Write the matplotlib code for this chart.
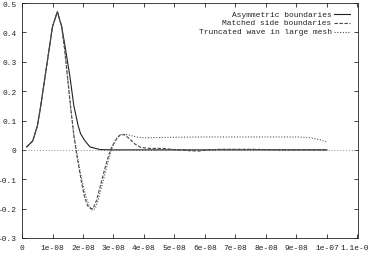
import matplotlib
matplotlib.use("Agg")
import matplotlib.pyplot as plt
from matplotlib.lines import Line2D

# ---- data (time in ns) ----
rise_t = [1.5, 3.5, 5.0, 6.0, 7.0, 8.0, 9.0, 10.0, 11.6]
rise_v = [0.01, 0.03, 0.08, 0.14, 0.21, 0.28, 0.35, 0.42, 0.47]

asym_t = rise_t + [13.0, 14.0, 15.7, 17.0, 18.4, 19.2, 20.7, 22.3, 25.6, 30.0, 40.0, 60.0, 80.0, 100.0]
asym_v = rise_v + [0.42, 0.36, 0.25, 0.15, 0.083, 0.055, 0.03, 0.01, 0.001, 0.0, 0.0, 0.0, 0.0, 0.0]

match_t = rise_t + [13.0, 14.0, 15.0, 16.0, 17.0, 17.7, 18.5, 19.5, 20.5, 21.5, 22.5, 23.3,
                    24.5, 25.5, 26.5, 27.5, 29.0, 30.5, 32.0, 33.5, 35.0, 37.0, 39.0, 42.0,
                    46.0, 50.0, 55.0, 58.0, 61.0, 65.0, 75.0, 80.0, 85.0, 100.0]
match_v = rise_v + [0.42, 0.34, 0.24, 0.14, 0.05, 0.0, -0.05, -0.11, -0.16, -0.19, -0.20, -0.20,
                    -0.17, -0.13, -0.09, -0.05, 0.0, 0.03, 0.05, 0.052, 0.04, 0.02, 0.008, 0.005,
                    0.005, 0.001, -0.003, -0.004, 0.0, 0.002, 0.002, 0.001, 0.0, 0.0]

trunc_t = rise_t + [13.0, 14.0, 15.0, 16.0, 17.0, 18.0, 19.0, 20.0, 21.0, 22.0, 23.0, 24.0,
                    25.0, 26.0, 27.0, 28.0, 29.0, 30.0, 31.0, 32.5, 34.0, 36.0, 38.0, 40.0,
                    45.0, 50.0, 60.0, 70.0, 80.0, 90.0, 94.0, 97.0, 100.0]
trunc_v = rise_v + [0.42, 0.34, 0.24, 0.14, 0.05, -0.01, -0.07, -0.12, -0.16, -0.19, -0.205, -0.20,
                    -0.17, -0.13, -0.09, -0.05, -0.01, 0.02, 0.04, 0.052, 0.053, 0.048, 0.043, 0.041,
                    0.042, 0.043, 0.044, 0.044, 0.044, 0.044, 0.042, 0.036, 0.027]

labels = ["Asymmetric boundaries", "Matched side boundaries", "Truncated wave in large mesh"]
xticks = [0, 1e-8, 2e-8, 3e-8, 4e-8, 5e-8, 6e-8, 7e-8, 8e-8, 9e-8, 1e-7, 1.1e-7]
xticklabels = ["0", "1e-08", "2e-08", "3e-08", "4e-08", "5e-08", "6e-08", "7e-08",
               "8e-08", "9e-08", "1e-07", "1.1e-07"]
yticks = [-0.3, -0.2, -0.1, 0, 0.1, 0.2, 0.3, 0.4, 0.5]
yticklabels = ["-0.3", "-0.2", "-0.1", "0", "0.1", "0.2", "0.3", "0.4", "0.5"]

FONT = "Liberation Mono"
FS = 5.7
W, H = 368, 255
fig = plt.figure(figsize=(W / 100, H / 100), dpi=100)
L, R, T, B = 22, 357.5, 4, 239
ax = fig.add_axes([L / W, (H - B) / H, (R - L) / W, (B - T) / H])

ns = 1e-9
ax.axhline(0, color="#888888", lw=0.7, ls=(0, (1, 2)))
ax.plot([t * ns for t in asym_t], asym_v, color="#222222", lw=0.8, ls="-")
ax.plot([t * ns for t in match_t], match_v, color="#444444", lw=0.8, ls=(0, (3, 1.5)))
ax.plot([t * ns for t in trunc_t], trunc_v, color="#555555", lw=0.8, ls=(0, (1, 1.5)))

ax.set_xlim(0, 1.1e-7)
ax.set_ylim(-0.3, 0.5)
ax.set_xticks(xticks)
ax.set_xticklabels(xticklabels)
ax.set_yticks(yticks)
ax.set_yticklabels(yticklabels)
ax.tick_params(direction="in", length=3, width=0.6, top=True, right=True,
               labelsize=FS, colors="#222222", pad=4)
for lab in ax.get_xticklabels() + ax.get_yticklabels():
    lab.set_fontfamily(FONT)
for s in ax.spines.values():
    s.set_linewidth(0.6)
    s.set_color("#222222")

# legend (gnuplot style: right-aligned text, sample to the right)
styles = [("-", "#222222"), ((0, (3, 1.5)), "#444444"), ((0, (1, 1.5)), "#555555")]
ys = [0.953, 0.915, 0.877]
for lab, (ls, c), y in zip(labels, styles, ys):
    ax.text(0.923, y, lab, transform=ax.transAxes, ha="right", va="center",
            fontsize=FS, family=FONT, color="#222222")
    ax.add_line(Line2D([0.930, 0.978], [y, y], transform=ax.transAxes,
                       color=c, lw=0.8, ls=ls))

fig.savefig("out.png", dpi=100)
